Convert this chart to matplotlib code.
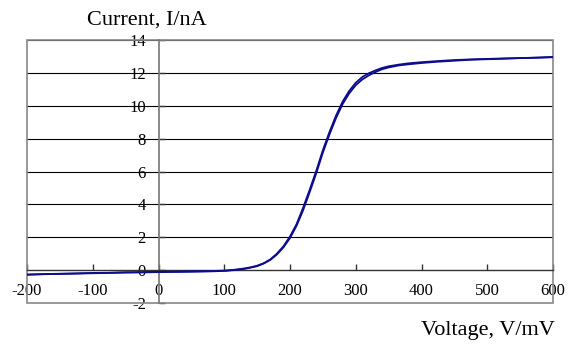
import matplotlib.pyplot as plt
from matplotlib.patches import Rectangle

# forward sweep (voltage in mV, current in nA)
fwd_v = [-200, -175, -150, -125, -100, -75, -50, -25, 0, 25, 50, 75, 100, 115, 130,
         140, 150, 160, 170, 180, 190, 200, 210, 220, 230, 240, 250, 260, 270, 280,
         290, 300, 310, 320, 330, 340, 350, 365, 380, 400, 425, 450, 475, 500, 525,
         550, 575, 600]
fwd_i = [-0.27, -0.24, -0.22, -0.2, -0.17, -0.16, -0.13, -0.12, -0.1, -0.09, -0.07,
         -0.06, -0.03, 0.02, 0.1, 0.17, 0.27, 0.42, 0.65, 1.0, 1.45, 2.05, 2.8, 3.8,
         4.9, 6.05, 7.3, 8.4, 9.4, 10.25, 10.9, 11.4, 11.75, 11.98, 12.15, 12.3, 12.4,
         12.5, 12.58, 12.65, 12.72, 12.78, 12.82, 12.85, 12.88, 12.9, 12.92, 12.95]

# reverse sweep
rev_v = [600, 575, 550, 525, 500, 475, 450, 425, 400, 380, 365, 350, 340, 330, 320,
         310, 300, 290, 280, 270, 260, 250, 240, 230, 220, 210, 200, 190, 180, 170,
         160, 150, 140, 130, 115, 100, 75, 50, 25, 0, -25, -50, -75, -100, -125, -150,
         -175, -200]
rev_i = [12.97, 12.93, 12.9, 12.86, 12.83, 12.8, 12.74, 12.68, 12.6, 12.52, 12.45,
         12.33, 12.22, 12.05, 11.85, 11.6, 11.25, 10.75, 10.1, 9.25, 8.25, 7.15, 5.9,
         4.75, 3.65, 2.7, 1.95, 1.38, 0.95, 0.62, 0.4, 0.24, 0.15, 0.07, 0.0, -0.05,
         -0.08, -0.1, -0.11, -0.12, -0.14, -0.15, -0.17, -0.19, -0.21, -0.23, -0.25,
         -0.28]

x_ticks = [-200, -100, 0, 100, 200, 300, 400, 500, 600]
y_ticks = [-2, 0, 2, 4, 6, 8, 10, 12, 14]

plt.rcParams['font.family'] = 'Liberation Serif'

fig = plt.figure(figsize=(5.75, 3.47), dpi=100)
ax = fig.add_axes([27 / 575, 44 / 347, 526 / 575, 263 / 347])

ax.plot(fwd_v, fwd_i, color='#0c0c8c', lw=1.3, zorder=3)
ax.plot(rev_v, rev_i, color='#0c0c8c', lw=1.3, zorder=3)

ax.set_xlim(-200, 600)
ax.set_ylim(-2, 14)

# horizontal grid lines
for y in y_ticks[2:]:
    ax.axhline(y, color='black', lw=0.8, zorder=1)

# axes crossing at the origin
ax.spines['left'].set_position(('data', 0))
ax.spines['bottom'].set_position(('data', 0))
ax.spines['left'].set_color('#777777')
ax.spines['bottom'].set_color('#333333')
ax.spines['left'].set_linewidth(1.2)
ax.spines['bottom'].set_linewidth(1.0)
ax.spines['top'].set_visible(False)
ax.spines['right'].set_visible(False)
ax.add_patch(Rectangle((0, 0), 1, 1, transform=ax.transAxes, fill=False,
                       edgecolor='#888888', lw=1.2, clip_on=False, zorder=2))

ax.set_xticks(x_ticks)
ax.set_yticks(y_ticks)
ax.set_xticklabels([str(v) for v in x_ticks])
ax.set_yticklabels([str(v) for v in y_ticks])
ax.tick_params(axis='x', direction='in', length=4, width=1, color='#333333',
               labelsize=12, pad=9)
ax.tick_params(axis='y', direction='in', length=4, width=1, color='#333333',
               labelsize=12, pad=9)

fig.text(147 / 575, 1 - 20 / 347, 'Current, I/nA', fontsize=16,
         ha='center', va='center')
fig.text(555 / 575, 1 - 331 / 347, 'Voltage, V/mV', fontsize=16,
         ha='right', va='center')

fig.savefig('out.png', dpi=100)
